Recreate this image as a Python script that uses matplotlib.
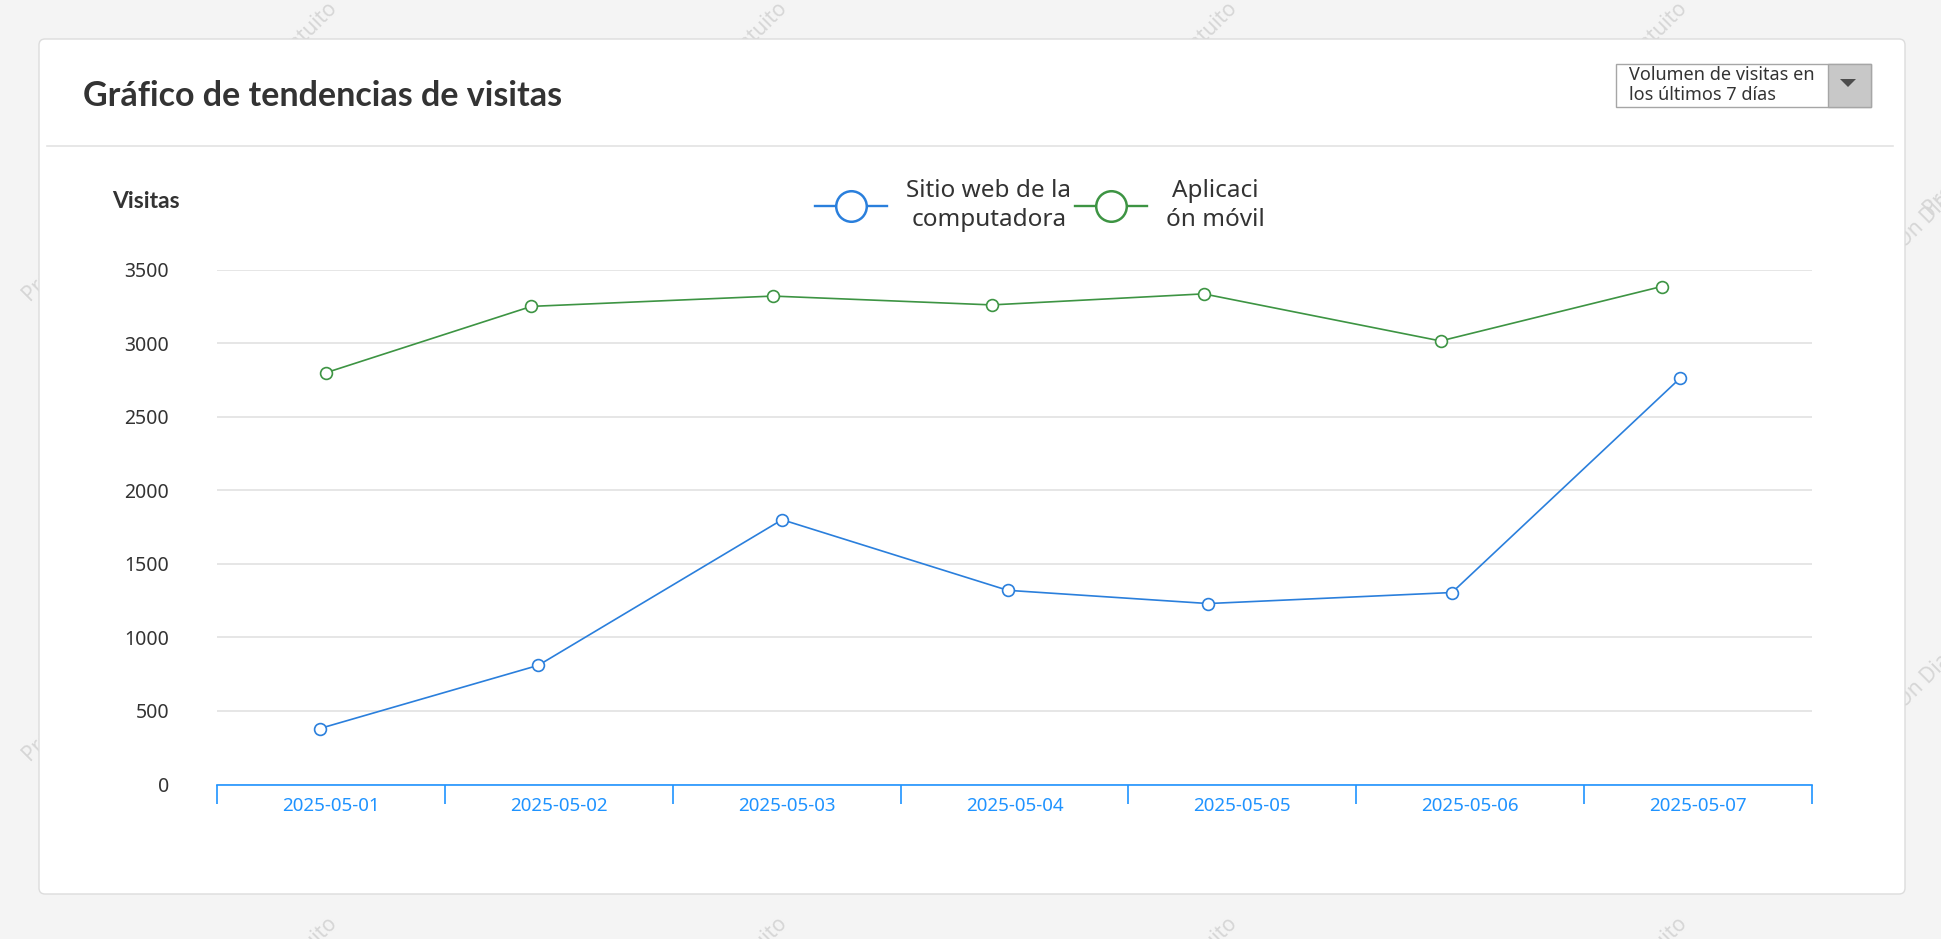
import matplotlib
matplotlib.use("Agg")
import matplotlib.pyplot as plt
from matplotlib.patches import FancyBboxPatch, Rectangle, Polygon
from matplotlib.lines import Line2D
import numpy as np

# ---------------- data ----------------
dates = ["2025-05-01", "2025-05-02", "2025-05-03", "2025-05-04",
         "2025-05-05", "2025-05-06", "2025-05-07"]
desktop_visits = [380, 810, 1800, 1320, 1230, 1305, 2760]
app_visits = [2800, 3250, 3320, 3260, 3335, 3015, 3385]
# fractional day position of each sample (the samples are not exactly on the day centre)
desktop_day_pos = [-0.05, 0.91, 1.98, 2.97, 3.85, 4.92, 5.92]
app_day_pos = [-0.02, 0.88, 1.94, 2.90, 3.83, 4.87, 5.84]
series_labels = ["Sitio web de la\ncomputadora", "Aplicaci\nón móvil"]
y_ticks = [0, 500, 1000, 1500, 2000, 2500, 3000, 3500]
title_text = "Gráfico de tendencias de visitas"
y_title = "Visitas"
dropdown_text = "Volumen de visitas en\nlos últimos 7 días"
watermark_text = "ProcessOn Diagrama gratuito"

# ---------------- style ----------------
plt.rcParams["font.family"] = ["Noto Sans", "DejaVu Sans"]
BOLD_FAMILY = ["Lato", "DejaVu Sans"]
W, H, DPI = 1941, 939, 100
BG = "#f4f4f4"
BLUE = "#2a7fdc"
GREEN = "#3d9443"
AXIS_BLUE = "#1f93ff"
DARK = "#333333"

fig = plt.figure(figsize=(W / DPI, H / DPI), dpi=DPI, facecolor=BG)


def fx(x):
    return x / W


def fy(y):
    return 1 - y / H


# watermarks (behind the card)
wm_centers = [(231 + 450 * k, 109) for k in range(5)] + \
             [(231 + 450 * k, 1024) for k in range(5)] + \
             [(130 + 455 * k, 195) for k in range(5)] + \
             [(130 + 455 * k, 655) for k in range(5)]
for cx, cy in wm_centers:
    fig.text(fx(cx), fy(cy), watermark_text, rotation=45, ha="center", va="center",
             fontsize=15, color="#d6d6d6", zorder=0.5)

# card
card = FancyBboxPatch((39 / DPI, (H - 894) / DPI), (1905 - 39) / DPI, (894 - 39) / DPI,
                      boxstyle="round,pad=0,rounding_size=0.06",
                      transform=fig.dpi_scale_trans, facecolor="white",
                      edgecolor="#dcdcdc", linewidth=1.0, zorder=1)
fig.patches.append(card)

# title + separator
fig.text(fx(83), fy(96.5), title_text, fontsize=24.5, fontweight="bold", color=DARK,
         family=BOLD_FAMILY, ha="left", va="center", zorder=3)
fig.add_artist(Line2D([fx(47), fx(1893)], [fy(146), fy(146)], transform=fig.transFigure,
                      color="#e3e3e3", lw=1.2, zorder=2))

# dropdown
fig.patches.append(Rectangle((fx(1616), fy(107)), fx(1871) - fx(1616), fy(64) - fy(107),
                             transform=fig.transFigure, facecolor="white",
                             edgecolor="#a6a6a6", lw=1.0, zorder=2))
fig.patches.append(Rectangle((fx(1828), fy(107)), fx(1871) - fx(1828), fy(64) - fy(107),
                             transform=fig.transFigure, facecolor="#c8c8c8",
                             edgecolor="#a6a6a6", lw=1.0, zorder=2.1))
fig.patches.append(Polygon([(fx(1840), fy(79)), (fx(1856), fy(79)), (fx(1848), fy(87))],
                           closed=True, transform=fig.transFigure, facecolor="#4d4d4d",
                           edgecolor="none", zorder=2.2))
fig.text(fx(1629), fy(85), dropdown_text, fontsize=13, color=DARK, ha="left",
         va="center", linespacing=1.15, zorder=3)

# y title
fig.text(fx(112), fy(202), y_title, fontsize=16.5, fontweight="bold", color=DARK,
         family=BOLD_FAMILY, ha="left", va="center", zorder=3)

# ---------------- axes ----------------
ax = fig.add_axes([fx(217), fy(784.5), fx(1812) - fx(217), (784.5 - 269.6) / H])
ax.set_zorder(5)
ax.patch.set_alpha(0)

ax.plot(desktop_day_pos, desktop_visits, color=BLUE, lw=1.2, marker="o", ms=8.5,
        mfc="white", mec=BLUE, mew=1.2, zorder=3, clip_on=False)
ax.plot(app_day_pos, app_visits, color=GREEN, lw=1.2, marker="o", ms=8.5,
        mfc="white", mec=GREEN, mew=1.2, zorder=3, clip_on=False)

ax.set_xlim(-0.5, len(dates) - 0.5)
ax.set_ylim(y_ticks[0], y_ticks[-1])
ax.set_yticks(y_ticks)
ax.set_yticklabels([str(v) for v in y_ticks])
ax.yaxis.grid(True, color="#e2e2e2", lw=1.2)
ax.set_axisbelow(True)
ax.tick_params(axis="y", length=0, pad=34.5, labelsize=14, labelcolor=DARK)

ax.set_xticks(np.arange(-0.5, len(dates), 1.0))
ax.set_xticklabels([])
ax.set_xticks(np.arange(len(dates)), minor=True)
ax.set_xticklabels(dates, minor=True)
ax.tick_params(axis="x", which="major", length=13.7, width=1.2, color=AXIS_BLUE,
               direction="out")
ax.tick_params(axis="x", which="minor", length=0, pad=8.8, labelsize=13.5,
               labelcolor=AXIS_BLUE)
for s in ("top", "right", "left"):
    ax.spines[s].set_visible(False)
ax.spines["bottom"].set_color(AXIS_BLUE)
ax.spines["bottom"].set_linewidth(1.2)

# legend
handles = [Line2D([], [], color=BLUE, lw=1.7, marker="o", ms=22, mfc="white",
                  mec=BLUE, mew=1.8),
           Line2D([], [], color=GREEN, lw=1.7, marker="o", ms=22, mfc="white",
                  mec=GREEN, mew=1.8)]
leg = fig.legend(handles, series_labels, ncol=2, loc="center",
                 bbox_to_anchor=(fx(1040), fy(205.5)), frameon=False, fontsize=17.5,
                 handlelength=2.95, handletextpad=0.8, columnspacing=0.15,
                 labelcolor=DARK)
leg.set_zorder(6)
for t in leg.get_texts():
    t.set_multialignment("center")
    t.set_linespacing(1.3)

fig.savefig("out.png", dpi=DPI, facecolor=BG)
